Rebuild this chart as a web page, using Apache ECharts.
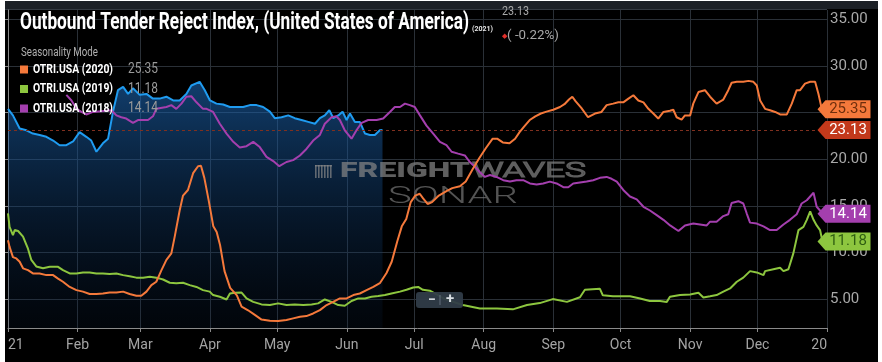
<!DOCTYPE html>
<html><head><meta charset="utf-8">
<script src="https://cdn.jsdelivr.net/npm/echarts@6/dist/echarts.min.js"></script>
<style>
html,body{margin:0;padding:0;background:#fff;width:882px;height:362px;overflow:hidden}
#c{position:absolute;left:5px;top:1px;width:873px;height:361px;background:#000}
</style></head><body><div id="c"></div>
<script>
// ---- axis ticks (day of year, 0 = Jan 1) ----
const monthDays = [0, 31, 59, 90, 120, 151, 181, 212, 243, 273, 304, 334, 365];
const monthLabels = ['21', 'Feb', 'Mar', 'Apr', 'May', 'Jun', 'Jul', 'Aug', 'Sep', 'Oct', 'Nov', 'Dec', '20'];
const yTicks = [5, 10, 15, 20, 25, 30, 35];

// ---- OTRI.USA (2021) ----
const days2021 = [0,2.2,5.2,8.2,11.1,14.1,17.1,20.1,23.0,26.0,29.0,31.9,34.9,37.1,39.4,42.3,44.6,46.8,49.0,51.3,53.5,55.7,58.7,61.7,64.6,67.6,70.6,73.6,76.5,79.5,81.7,85.4,87.7,90.0,92.9,95.9,98.9,101.8,104.8,107.8,110.8,113.7,116.7,118.9,121.9,124.9,127.8,130.8,133.8,136.8,139.0,141.2,143.2,145.0,147.2,149.1,150.9,152.4,154.6,156.8,159.1,161.3,163.5,165.7,166.9];
const otri2021 = [25.4,24.7,23.3,23.1,22.75,22.6,22.4,22.0,21.5,21.5,21.9,22.9,22.4,22.0,20.8,21.7,22.2,25.1,27.4,27.75,27.0,27.6,26.9,27.0,26.5,26.5,26.7,26.3,26.3,27.0,27.9,28.3,27.4,26.3,25.96,25.86,25.6,25.6,25.6,25.8,25.8,25.6,25.1,24.4,24.5,24.7,24.4,24.2,24.0,23.8,24.4,24.7,25.25,24.4,24.7,25.1,24.2,24.9,24.0,24.0,22.75,22.6,22.6,23.1,23.13];

// ---- OTRI.USA (2020) ----
const days2020 = [0,0.7,2.2,3.7,5.2,6.7,8.9,11.1,14.1,17.1,20.1,22.3,24.5,27.5,30.5,33.4,36.4,39.4,42.3,45.3,48.3,51.3,54.2,57.2,59.4,61.7,63.9,66.1,68.4,70.6,72.8,74.3,76.5,78.0,80.2,82.5,84.7,86,87.5,89.5,91.5,93,94.5,96.5,99,102,104.1,107,110,113,116.7,120.4,124.1,127.1,130.1,133,136,139,142,144.9,147.9,150.9,153.9,156.8,159.8,162.8,165.7,168.7,171,173.5,175.5,177.5,179.5,181.5,183.5,185,187,189,192,195.6,198,201.4,204,207,210,213,216,218,220.5,223.5,226,228,230,232.5,235,237.5,240,243,246,248,250,251.5,253,255.5,258.5,261.6,264.5,266.8,269.7,272,274.2,276.5,278.7,280.9,283.2,285.4,287.6,289.8,292.1,295,296.5,298,300.2,301.7,304,305.4,307.7,310.6,312.9,315.8,318.8,321,322.5,324.8,327.7,330,332.2,333.7,335.2,337.4,339.6,341.9,344.1,347.1,349.3,351.5,353,355.2,357.5,359.7,361.2,362.7];
const otri2020 = [11.3,10.6,9.5,9.36,9.0,8.3,8.1,7.75,7.75,7.57,7.57,7.2,6.86,6.3,5.96,5.8,5.54,5.54,5.6,5.7,5.7,5.8,5.54,5.36,5.36,5.8,6.5,6.86,8.1,9.2,9.9,11.7,14.5,16.1,16.7,18.5,19.25,19.3,18.0,15.5,12.8,12.2,10.8,8.0,6.2,5.4,4.18,3.8,3.3,2.8,2.68,2.64,2.75,2.93,3.1,3.18,3.46,3.82,4.36,4.7,5.07,5.07,5.43,5.6,5.96,6.3,6.7,7.8,9.0,11.2,12.8,13.6,15.4,16.1,16.3,15.8,15.2,15.4,16.1,16.6,16.9,17.1,17.6,18.9,20.1,21.2,22.2,22.2,21.8,21.7,22.2,22.9,23.5,24.2,24.6,24.9,25.1,25.3,25.6,25.9,26.4,26.7,26.2,25.5,24.5,24.9,25.07,25.8,25.96,26.1,26.1,26.5,26.86,26.3,26.1,25.4,24.9,24.36,25.07,25.2,25.3,24.5,24.25,24.7,24.7,25.96,27.2,27.4,26.7,25.96,26.4,27.4,28.2,28.3,28.3,28.4,28.3,27.9,26.3,25.4,25.25,25.07,24.8,24.8,25.96,27.4,27.4,28.1,28.3,28.3,27.0,25.35];

// ---- OTRI.USA (2019) ----
const days2019 = [0,0.7,2.2,3.0,4.5,6.7,8.9,10.4,12.6,15.6,18.6,22.3,24.5,27.5,30.5,33.4,36.4,39.4,42.3,45.3,48.3,51.3,54.2,57.2,60.2,63.2,66.1,69.1,72.1,75.0,78.0,81.0,84.0,86.9,89.9,91.4,94.4,97.4,98.9,101.1,104.1,106.3,109.3,113,116.7,120.4,124.1,127.8,131.6,135.3,138.2,141.2,144.2,147.2,150.1,153.1,156.1,159.1,162,165,168,170.9,174.7,177.6,180.6,182.8,184.9,188,194.7,202.7,210.3,217.9,225,231.3,237,242.8,249.1,254.9,257.1,263.8,265.1,269.6,277.2,281.7,286,290.6,293.6,295,299.5,304,307.7,309.9,312.9,315.8,318.8,321.8,324.8,327.7,330.7,333.7,336.7,337.4,341.1,344.1,345.6,347.8,350,352.3,354.5,356,357.5,359,360.4,361.9,363];
const otri2019 = [14.2,12.75,11.86,12.4,12.3,11.7,10.4,9.2,8.5,8.3,8.46,8.46,8.1,7.75,7.75,7.86,7.86,7.75,7.75,7.7,7.75,7.57,7.46,7.3,7.3,7.4,7.3,7.1,6.75,6.7,6.75,6.5,6.3,5.96,5.8,5.43,5.25,4.96,5.6,5.68,5.7,5.07,4.7,4.43,4.36,4.54,4.36,4.43,4.36,4.43,4.54,4.96,4.7,4.36,4.29,4.8,5.07,5.07,5.25,5.32,5.43,5.6,5.8,6.0,6.25,6.3,6.0,5.9,5.0,4.36,4.0,4.0,3.9,4.36,4.57,5.0,4.7,5.2,6.0,6.1,5.4,5.3,5.3,5.07,4.8,4.8,4.7,5.25,5.43,5.5,5.68,5.18,5.3,5.43,5.8,6.14,6.86,7.3,8.0,7.86,7.57,8.0,8.2,8.36,8.0,8.2,9.9,12.4,12.75,13.5,14.4,13.5,12.9,12.4,11.18];

// ---- OTRI.USA (2018) ----
const days2018 = [26.0,28.3,30.5,32.7,34.9,37.9,46.1,48.3,50.5,52.7,55.7,57.9,62.4,64.6,66.1,70.6,72.8,75.0,77.3,79.5,81.7,84.0,86.9,88.5,91.4,94.4,97.4,100.4,103.3,106.3,109.3,112.2,115.2,118.2,120.9,124.1,127.1,130.1,133,136,139,141.2,144.2,146.4,147.9,150.1,153.1,155.3,157.6,160.5,164.3,167.2,170.2,172.4,174.7,176.9,179.1,181.3,183.6,186.5,189.5,192.5,195.4,197.7,200.6,203.6,205.8,208.1,210.3,212.5,214.8,217.7,220.7,223.7,226.6,229.6,232.6,235.6,238.5,241.5,244.5,247.5,249.7,251.9,254.9,257.9,260.8,263.8,266.8,269,271.3,274.2,277.2,280.2,283.2,286.1,289.1,292.1,295.1,298.8,301.7,305.4,308.4,311.4,312.9,315.8,318.8,321,322.5,325.5,327.7,329.2,330.7,333.7,336.7,339.6,342.6,345.6,348.5,351.5,353.7,356,357.5,359,360.4,361.9,363];
const otri2018 = [26.9,26.3,25.4,25.07,24.8,25.07,25.25,24.7,24.5,24.36,23.9,24.2,24.2,24.6,25.4,25.6,25.8,25.4,25.96,26.7,26.75,26.1,25.4,25.4,25.07,23.8,22.75,21.86,21.25,21.4,21.86,21.3,20.25,19.8,19.25,19.7,19.9,20.4,21.1,22.0,22.6,23.8,24.5,24.6,24.2,23.1,22.2,23.1,23.9,24.2,24.2,24.36,25.07,25.6,25.6,25.96,25.8,25.6,24.7,23.6,22.75,21.86,21.5,20.8,20.6,20.4,19.7,19.2,18.6,18.1,18.3,18.1,17.75,17.6,17.75,17.75,17.4,17.3,17.4,17.6,17.4,17.0,17.0,17.4,17.5,17.6,17.75,18.0,18.1,17.9,17.6,16.7,16.0,15.7,14.9,14.5,14.0,13.5,12.9,12.3,12.9,13.1,13.0,12.9,13.3,13.3,13.9,14.1,15.3,15.5,15.25,14.2,13.2,13.1,12.8,12.4,12.4,13.0,13.5,14.1,15.25,15.6,16.0,16.4,14.9,14.5,14.14];

const C2021 = '#1f9bf0', C2020 = '#f5793b', C2019 = '#8dc63f', C2018 = '#a43fae', CCUR = '#c3391b';
const FONT = 'Roboto, "Noto Sans", sans-serif';

function pairs(xs, ys) { return xs.map((d, i) => [d, ys[i]]); }
const last = a => a[a.length - 1];
const mctx = document.createElement('canvas').getContext('2d');
function fit(text, weight, size, target) {
  mctx.font = weight + ' ' + size + 'px ' + FONT;
  return target / mctx.measureText(text).width;
}
function txt(text, x, y, weight, size, color, target, extra) {
  const s = target ? fit(text, weight, size, target) : 1;
  return Object.assign({
    type: 'text', x: x, y: y, scaleX: s, z: 50,
    style: { text: text, fill: color, fontSize: size, fontWeight: weight, fontFamily: FONT, align: 'left', verticalAlign: 'middle' }
  }, extra || {});
}

const tagPath = 'path://M0,9 L8,0 L53,0 L53,18 L8,18 Z';
function tag(value, bg, fg) {
  return {
    symbol: tagPath, symbolSize: [53, 18], symbolOffset: [17, 0], silent: true, z: 20,
    itemStyle: { color: bg },
    label: { show: true, position: 'inside', offset: [4, 0], color: fg, fontSize: 15, fontFamily: FONT, formatter: () => value.toFixed(2) },
    data: [{ coord: [365, value] }]
  };
}

const title = 'Outbound Tender Reject Index, (United States of America)';
const legendRows = [
  { name: 'OTRI.USA (2020)', color: C2020, value: last(otri2020), y: 68.5 },
  { name: 'OTRI.USA (2019)', color: C2019, value: last(otri2019), y: 88 },
  { name: 'OTRI.USA (2018)', color: C2018, value: last(otri2018), y: 107.5 }
];

const graphics = [
  { type: 'rect', shape: { x: 0, y: 0, width: 873, height: 8 }, style: { fill: '#1c2026' }, z: 0, silent: true },
  { type: 'line', shape: { x1: 0, y1: 8.5, x2: 822, y2: 8.5 }, style: { stroke: '#343a42', lineWidth: 1 }, z: 0, silent: true },
  txt(title, 15, 22.5, 'bold', 23, '#ffffff', 449),
  txt('(2021)', 467, 28, 'bold', 8, '#e6e6e6', 21),
  txt(last(otri2021).toFixed(2), 497, 11, 'normal', 13, '#a8a8a8', 27),
  txt('\u25C6', 497, 35, 'normal', 7, '#e0302a'),
  txt('( -0.22%)', 502, 35, 'normal', 13, '#a8a8a8', 52),
  txt('Seasonality Mode', 16, 52, 'normal', 12, '#b0b0b0', 77)
];
legendRows.forEach(r => {
  graphics.push({ type: 'rect', shape: { x: 15, y: r.y - 4, width: 8, height: 8 }, style: { fill: r.color }, z: 50, silent: true });
  graphics.push(txt(r.name, 28, r.y, 'bold', 13, '#ffffff', 80));
  graphics.push(txt(r.value.toFixed(2), 123, r.y, 'normal', 15, '#9a9a9a', 30));
});
// watermark
const wm = 'rgba(135,135,135,0.7)';
for (let i = 0; i < 6; i++) {
  graphics.push({ type: 'rect', shape: { x: 310 + i * 3, y: 164, width: 1.6, height: 13 }, style: { fill: wm }, z: 3, silent: true });
}
graphics.push({ type: 'rect', shape: { x: 310, y: 164, width: 17, height: 1.5 }, style: { fill: wm }, z: 3, silent: true });
graphics.push(txt('FREIGHT', 335, 171, '900', 21, wm, 130, { z: 3 }));
graphics.push(txt('WAVES', 467, 171, '300', 21, 'rgba(0,0,0,0)', 114, { z: 3 }));
graphics[graphics.length - 1].style.stroke = wm; graphics[graphics.length - 1].style.lineWidth = 1.2;
graphics.push(txt('SONAR', 383, 196, '300', 23, 'rgba(120,120,120,0.7)', 130, { z: 3 }));
// zoom control
graphics.push({ type: 'rect', shape: { x: 411, y: 291, width: 47, height: 16, r: 3 }, style: { fill: 'rgba(48,60,72,0.95)' }, z: 60, silent: true });
graphics.push({ type: 'line', shape: { x1: 435, y1: 294, x2: 435, y2: 304 }, style: { stroke: 'rgba(120,132,145,0.7)', lineWidth: 1 }, z: 61, silent: true });
graphics.push(Object.assign(txt('\u2212', 423, 299, 'bold', 14, '#d9dee3'), { z: 61 }));
graphics.push(Object.assign(txt('+', 441, 298.5, 'bold', 15, '#d9dee3'), { z: 61 }));

function lineSeries(name, xs, ys, color, z, extra) {
  return Object.assign({
    name: name, type: 'line', data: pairs(xs, ys), showSymbol: false, symbol: 'none',
    lineStyle: { color: color, width: 2 }, itemStyle: { color: color }, z: z, silent: true, clip: false, animation: false
  }, extra || {});
}

const option = {
  backgroundColor: '#000',
  animation: false,
  grid: { left: 3, right: 51, top: 9, bottom: 34, outerBoundsMode: 'none', containLabel: false },
  xAxis: {
    type: 'value', min: 0, max: 365,
    axisLine: { show: true, lineStyle: { color: '#8a8a8a', width: 1 } },
    axisTick: { show: true, length: 4, lineStyle: { color: '#8a8a8a' }, customValues: monthDays },
    axisLabel: {
      customValues: monthDays, color: '#a4a4a4', fontSize: 14, fontFamily: FONT, margin: 10,
      alignMinLabel: 'left', alignMaxLabel: 'right',
      formatter: v => monthLabels[monthDays.indexOf(Math.round(v))] || ''
    },
    splitLine: { show: true, lineStyle: { color: '#2a3037', width: 1 } }
  },
  yAxis: {
    type: 'value', position: 'right', min: 1.9, max: 36,
    axisLine: { show: true, lineStyle: { color: '#8a8a8a', width: 1 } },
    axisTick: { show: true, inside: true, length: 3, lineStyle: { color: '#8a8a8a' }, customValues: yTicks },
    axisLabel: { customValues: yTicks, color: '#a8a8a8', fontSize: 15, fontFamily: FONT, margin: 3, formatter: v => v.toFixed(2) },
    splitLine: { show: true, lineStyle: { color: '#2a3037', width: 1 } }
  },
  graphic: { elements: graphics },
  series: [
    lineSeries('OTRI.USA (2021)', days2021, otri2021, C2021, 2, {
      areaStyle: {
        color: new echarts.graphic.LinearGradient(0, 0, 0, 1, [
          { offset: 0, color: 'rgba(30,108,190,0.82)' },
          { offset: 1, color: 'rgba(8,30,60,0.25)' }
        ])
      },
      markLine: {
        silent: true, symbol: 'none', label: { show: false },
        lineStyle: { color: '#80301f', type: [3, 3], width: 1 },
        data: [{ yAxis: last(otri2021) }]
      },
      markPoint: tag(last(otri2021), CCUR, '#ffffff')
    }),
    lineSeries('OTRI.USA (2018)', days2018, otri2018, C2018, 5, { markPoint: tag(last(otri2018), C2018, '#ffffff') }),
    lineSeries('OTRI.USA (2019)', days2019, otri2019, C2019, 5, { markPoint: tag(last(otri2019), C2019, '#2f5e12') }),
    lineSeries('OTRI.USA (2020)', days2020, otri2020, C2020, 5, { markPoint: tag(last(otri2020), C2020, '#6e2e0c') })
  ]
};
const chart = echarts.init(document.getElementById('c'));
chart.setOption(option);
</script></body></html>
